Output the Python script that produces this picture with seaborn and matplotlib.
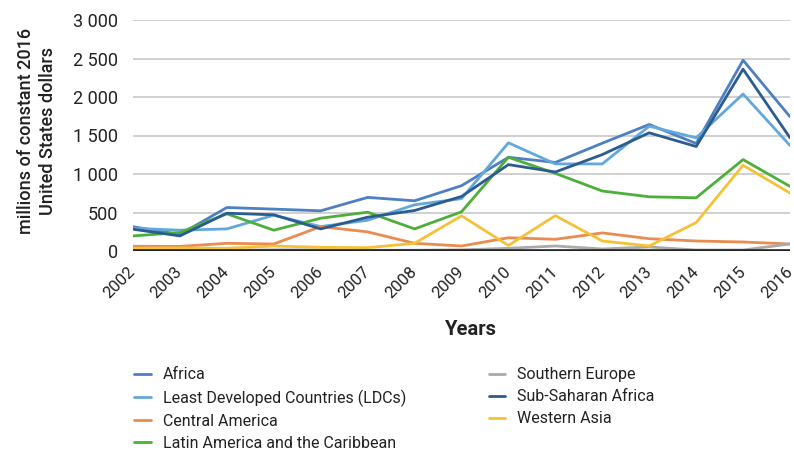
import matplotlib
matplotlib.use("Agg")
import matplotlib.pyplot as plt
import matplotlib.ticker as mticker
import seaborn as sns
import pandas as pd

years = list(range(2002, 2017))

africa = [315, 215, 565, 544, 522, 696, 652, 848, 1217, 1150, 1400, 1643, 1396, 2478, 1744]
ldcs = [295, 270, 287, 465, 317, 400, 600, 680, 1405, 1131, 1131, 1621, 1470, 2039, 1370]
central_america = [61, 60, 100, 91, 317, 248, 100, 65, 172, 152, 235, 160, 130, 117, 91]
latin_america = [196, 240, 483, 270, 426, 504, 287, 509, 1217, 1008, 779, 704, 691, 1187, 839]
southern_europe = [15, 15, 10, 15, 15, 10, 10, 15, 35, 65, 26, 52, 13, 13, 91]
sub_saharan = [283, 196, 491, 470, 287, 439, 526, 708, 1122, 1026, 1252, 1535, 1357, 2361, 1470]
western_asia = [35, 40, 35, 65, 48, 43, 100, 457, 72, 459, 130, 65, 369, 1113, 752]

series_names = [
    "Africa",
    "Least Developed Countries (LDCs)",
    "Central America",
    "Latin America and the Caribbean",
    "Southern Europe",
    "Sub-Saharan Africa",
    "Western Asia",
]
series_values = [africa, ldcs, central_america, latin_america,
                 southern_europe, sub_saharan, western_asia]
colors = ["#4c80c3", "#62a8dc", "#ea8c4f", "#4caf3a", "#aaaaaa", "#2b5b8f", "#f5c136"]

rows = []
for name, vals in zip(series_names, series_values):
    for y, v in zip(years, vals):
        rows.append({"Year": y, "Region": name, "Value": v})
df = pd.DataFrame(rows)

sns.set_theme(style="white")
plt.rcParams["font.family"] = ["Roboto", "DejaVu Sans"]

fig = plt.figure(figsize=(7.94, 4.51), dpi=100)
ax = fig.add_axes([133 / 794, 1 - 251 / 451, (790 - 133) / 794, (251 - 20) / 451])

ax.yaxis.grid(True, color="#c8c8c8", linewidth=1.2, zorder=0)
ax.set_axisbelow(True)

sns.lineplot(data=df, x="Year", y="Value", hue="Region", hue_order=series_names,
             palette=dict(zip(series_names, colors)), linewidth=2.0, ax=ax,
             legend=True)
ax.axhline(0, color="#222222", linewidth=2.6, zorder=5)

ax.set_xlim(2002, 2016)
ax.set_ylim(0, 3000)
ax.set_yticks(range(0, 3001, 500))
ax.yaxis.set_major_formatter(mticker.FuncFormatter(lambda v, p: f"{int(v):,}".replace(",", " ")))
ax.set_xticks(years)
ax.set_xticklabels([str(y) for y in years], rotation=45, ha="right", va="center",
                   rotation_mode="anchor", fontsize=12, color="#222222")
ax.tick_params(axis="y", labelsize=13, colors="#222222", pad=11, length=0)
ax.tick_params(axis="x", length=0, pad=13)
for s in ax.spines.values():
    s.set_visible(False)

ax.set_xlabel("Years", fontsize=14.5, fontweight="bold", color="#222222")
ax.xaxis.set_label_coords(0.515, -0.30)
ax.set_ylabel("millions of constant 2016\nUnited States dollars", fontsize=13,
              fontweight="medium", color="#222222", linespacing=1.25)
ax.yaxis.set_label_coords(-0.116, 0.52)

leg = ax.legend(loc="upper left", bbox_to_anchor=(-0.008, -0.476), ncol=2, frameon=False,
                fontsize=11.5, handlelength=1.05, handletextpad=0.75, labelspacing=0.44,
                columnspacing=5.15, borderaxespad=0)
for line in leg.get_lines():
    line.set_linewidth(2.0)
for t in leg.get_texts():
    t.set_color("#222222")

fig.savefig("out.png", dpi=100)
